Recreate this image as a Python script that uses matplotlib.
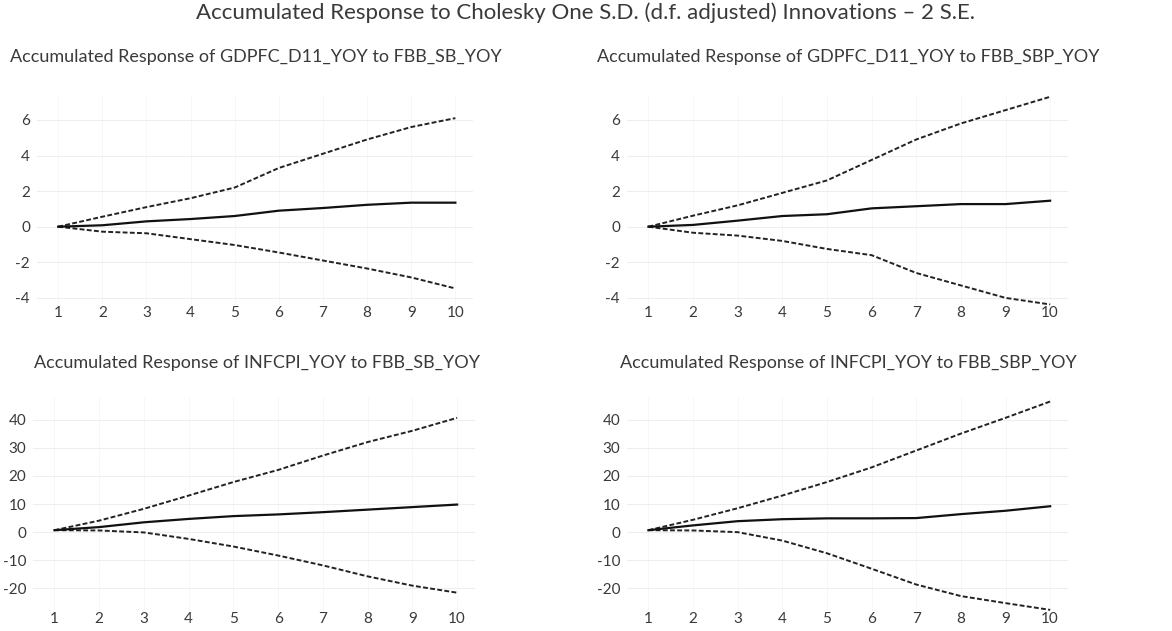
import matplotlib
matplotlib.use("Agg")
import matplotlib.pyplot as plt

periods = [1, 2, 3, 4, 5, 6, 7, 8, 9, 10]

main_title = "Accumulated Response to Cholesky One S.D. (d.f. adjusted) Innovations \u2013 2 S.E."

titles = [
    "Accumulated Response of GDPFC_D11_YOY to FBB_SB_YOY",
    "Accumulated Response of GDPFC_D11_YOY to FBB_SBP_YOY",
    "Accumulated Response of INFCPI_YOY to FBB_SB_YOY",
    "Accumulated Response of INFCPI_YOY to FBB_SBP_YOY",
]

# Panel 1: GDPFC_D11_YOY to FBB_SB_YOY
gdp_sb_resp = [0.0, 0.08, 0.3, 0.43, 0.6, 0.9, 1.05, 1.23, 1.35, 1.35]
gdp_sb_up = [0.0, 0.56, 1.1, 1.6, 2.2, 3.3, 4.1, 4.9, 5.6, 6.1]
gdp_sb_lo = [0.0, -0.28, -0.37, -0.7, -1.03, -1.45, -1.9, -2.35, -2.85, -3.47]

# Panel 2: GDPFC_D11_YOY to FBB_SBP_YOY
gdp_sbp_resp = [0.0, 0.1, 0.34, 0.6, 0.7, 1.03, 1.15, 1.27, 1.27, 1.46]
gdp_sbp_up = [0.0, 0.62, 1.2, 1.9, 2.6, 3.75, 4.9, 5.8, 6.55, 7.3]
gdp_sbp_lo = [0.0, -0.34, -0.5, -0.8, -1.25, -1.6, -2.6, -3.3, -4.0, -4.37]

# Panel 3: INFCPI_YOY to FBB_SB_YOY
inf_sb_resp = [0.7, 1.8, 3.5, 4.7, 5.7, 6.3, 7.1, 8.0, 8.9, 9.8]
inf_sb_up = [0.7, 4.1, 8.3, 13.0, 17.8, 22.1, 27.2, 32.0, 36.0, 40.6]
inf_sb_lo = [0.7, 0.6, -0.1, -2.4, -5.1, -8.3, -11.8, -15.7, -19.0, -21.5]

# Panel 4: INFCPI_YOY to FBB_SBP_YOY
inf_sbp_resp = [0.7, 2.4, 3.9, 4.6, 4.9, 4.9, 5.0, 6.4, 7.6, 9.2]
inf_sbp_up = [0.7, 4.4, 8.5, 13.0, 17.8, 23.0, 29.0, 35.0, 40.6, 46.4]
inf_sbp_lo = [0.7, 0.6, 0.0, -3.0, -7.5, -13.0, -18.6, -22.7, -25.2, -27.6]

yticks_top = [-4, -2, 0, 2, 4, 6]
yticks_bot = [-20, -10, 0, 10, 20, 30, 40]

W, H = 1172, 631
fig = plt.figure(figsize=(W / 100, H / 100), dpi=100)
plt.rcParams['font.family'] = ['Lato', 'DejaVu Sans']

def box(l, t, r, b):
    return [l / W, 1 - b / H, (r - l) / W, (b - t) / H]

panels = [
    (box(37, 95, 473, 305), titles[0], gdp_sb_resp, gdp_sb_up, gdp_sb_lo, (-4.4, 7.4), yticks_top, 256, 57),
    (box(627, 95, 1068, 305), titles[1], gdp_sbp_resp, gdp_sbp_up, gdp_sbp_lo, (-4.4, 7.4), yticks_top, 848, 57),
    (box(33, 397, 475, 611), titles[2], inf_sb_resp, inf_sb_up, inf_sb_lo, (-28, 48), yticks_bot, 257, 363),
    (box(627, 397, 1068, 611), titles[3], inf_sbp_resp, inf_sbp_up, inf_sbp_lo, (-28, 48), yticks_bot, 848, 363),
]

text_color = "#3a3a3a"
for rect, ttl, resp, up, lo, ylim, yt, tx, ty in panels:
    ax = fig.add_axes(rect)
    ax.plot(periods, up, color="#222222", lw=1.4, ls=(0, (2.5, 1.2)), clip_on=False)
    ax.plot(periods, lo, color="#222222", lw=1.4, ls=(0, (2.5, 1.2)), clip_on=False)
    ax.plot(periods, resp, color="#111111", lw=1.6, clip_on=False)
    ax.set_xlim(0.52, 10.4)
    ax.set_ylim(*ylim)
    ax.set_xticks(periods)
    ax.set_yticks(yt)
    ax.set_yticklabels([str(v) for v in yt])
    for s in ax.spines.values():
        s.set_visible(False)
    ax.tick_params(length=0, labelsize=11, colors=text_color)
    ax.tick_params(axis='x', pad=0.5)
    ax.tick_params(axis='y', pad=5)
    ax.grid(axis='y', color="#eeeeee", lw=0.8)
    ax.grid(axis='x', color="#f6f6f6", lw=0.6)
    ax.set_axisbelow(True)
    fig.text(tx / W, 1 - ty / H, ttl, ha='center', va='center', fontsize=13, color=text_color)

fig.text(586 / W, 1 - 13 / H, main_title, ha='center', va='center', fontsize=16, color=text_color)

fig.savefig("out.png", dpi=100, facecolor="white")
